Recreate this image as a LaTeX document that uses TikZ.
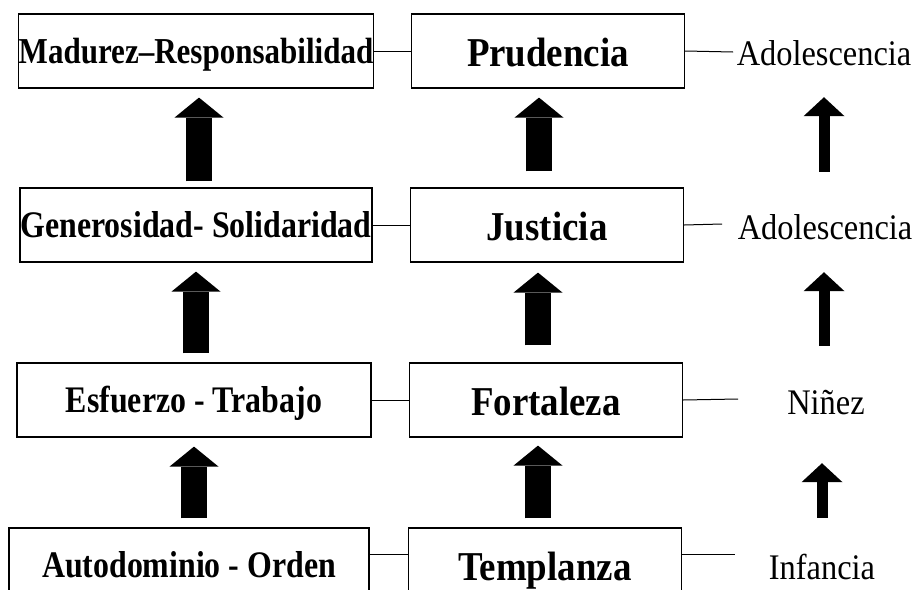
\documentclass[tikz,border=0pt]{standalone}
\usepackage{fontspec}
\setmainfont{Liberation Serif}[FakeStretch=0.9]
\newfontfamily\valorfont{Liberation Serif}[FakeStretch=0.85, Ligatures=TeX]
\usetikzlibrary{arrows.meta}

\begin{document}
\begin{tikzpicture}[x=1pt,y=-1pt,
  caja/.style={draw, line width=1.2pt, minimum height=74pt, inner sep=0pt},
  valor/.style={caja, text height=28pt, text depth=3pt, font=\valorfont\fontsize{37.5}{42}\selectfont\bfseries},
  virtud/.style={caja, minimum width=273pt, text height=32pt, text depth=2pt, font=\fontsize{41}{46}\selectfont\bfseries},
  etapa/.style={minimum height=74pt, inner sep=0pt, text height=30pt, text depth=2pt, font=\fontsize{36}{40}\selectfont},
  linea/.style={line width=1pt},
  gruesa/.style={line width=26pt, -{Triangle[width=49pt,length=20pt,line width=0pt]}, shorten >=9pt},
  fina/.style={line width=11pt, -{Triangle[width=41pt,length=19pt,line width=0pt]}, shorten >=9pt}]
\useasboundingbox (0,0) rectangle (917,589);

% valores
\node[valor, minimum width=352pt, font=\valorfont\fontsize{36.5}{42}\selectfont\bfseries] (madurez) at (196,51) {Madurez--Responsabilidad};
\node[valor, minimum width=352pt] (generosidad) at (196,225) {Generosidad- Solidaridad};
\node[valor, minimum width=354pt] (esfuerzo) at (194,400) {Esfuerzo - Trabajo};
\node[valor, minimum width=360pt] (autodominio) at (189,565) {Autodominio - Orden};

% virtudes
\node[virtud] (prudencia) at (548,51) {Prudencia};
\node[virtud] (justicia) at (547,225) {Justicia};
\node[virtud] (fortaleza) at (546,400) {Fortaleza};
\node[virtud] (templanza) at (545,565) {Templanza};

% etapas
\node[etapa] (adol1) at (824,51) {Adolescencia};
\node[etapa] (adol2) at (825,225) {Adolescencia};
\node[etapa] (ninez) at (826,400) {Niñez};
\node[etapa] (infancia) at (822,565) {Infancia};
\coordinate (f1) at (733,52);
\coordinate (f2) at (722,224);
\coordinate (f3) at (738,399);
\coordinate (f4) at (735,554);

% lineas
\draw[linea] (madurez.east) -- (prudencia.west);
\draw[linea] (generosidad.east) -- (justicia.west);
\draw[linea] (esfuerzo.east) -- (fortaleza.west);
\draw[linea] ([yshift=11pt]autodominio.east) -- ([yshift=11pt]templanza.west);
\draw[linea] (prudencia.east) -- (f1);
\draw[linea] (justicia.east) -- (f2);
\draw[linea] (fortaleza.east) -- (f3);
\draw[linea] ([yshift=11pt]templanza.east) -- (f4);

% flechas
\draw[gruesa, shorten <=6pt] ([xshift=3pt]madurez.south |- generosidad.north) -- ([xshift=3pt]madurez.south);
\draw[gruesa, shorten <=9pt] (generosidad.south |- esfuerzo.north) -- (generosidad.south);
\draw[gruesa, shorten <=9pt] (esfuerzo.south |- autodominio.north) -- (esfuerzo.south);
\draw[gruesa, shorten <=16pt] ([xshift=-8pt]justicia.north) -- ([xshift=-9pt]prudencia.south);
\draw[gruesa, shorten <=17pt, shorten >=10pt] ([xshift=-8pt]fortaleza.north) -- ([xshift=-9pt]justicia.south);
\draw[gruesa, shorten <=9pt, shorten >=8pt] ([xshift=-7pt]templanza.north) -- ([xshift=-8pt]fortaleza.south);
\draw[fina, shorten <=16pt] (adol1.south |- adol2.north) -- (adol1.south);
\draw[fina, shorten <=17pt, shorten >=10pt] (adol1.south |- ninez.north) -- (adol1.south |- adol2.south);
\draw[fina, shorten <=10pt, shorten >=26pt] (infancia.north) -- (infancia.north |- ninez.south);
\end{tikzpicture}
\end{document}
